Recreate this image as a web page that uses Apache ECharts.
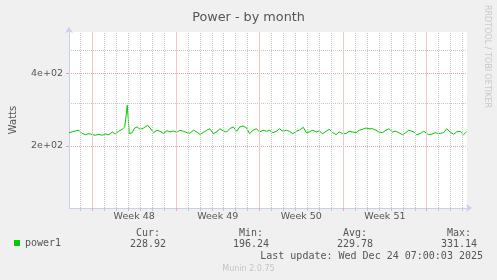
<!DOCTYPE html>
<html><head><meta charset="utf-8">
<script src="https://cdn.jsdelivr.net/npm/echarts@6/dist/echarts.min.js"></script>
<style>html,body{margin:0;padding:0;background:#F0F0F0;}#chart{width:497px;height:280px;}</style>
</head><body><div id="chart"></div>
<script>
const chartTitle = 'Power - by month';
const seriesName = 'power1';
const yAxisName = 'Watts';
// times are hours after 2025-11-21 01:00 UTC; graph spans 800 hours
const startTimeUTC = Date.UTC(2025, 10, 21, 1, 0, 0);
const rangeHours = 800;
const hoursFromStart = [
  0,6,13,20,26,33,40,47,53,60,
  67,73,80,87,93,100,107,112,115,117,
  119,121,127,132,137,143,150,158,163,170,
  177,183,190,197,203,210,217,223,230,237,
  243,250,257,263,270,277,283,290,297,303,
  310,317,323,330,337,343,350,357,363,370,
  377,383,390,397,403,410,417,423,430,437,
  443,450,457,463,471,477,483,490,497,503,
  510,517,523,530,537,543,550,557,563,570,
  577,583,590,597,603,610,617,623,630,637,
  643,650,657,663,670,677,683,693,699,706,
  713,716,723,729,736,743,747,753,759,766,
  773,779,786,793,796,799
];
const watts = [
  227.0,228.6,230.8,232.4,225.7,222.8,224.9,222.8,221.5,223.6,
  221.5,224.2,222.8,228.6,224.2,230.1,234.5,239.7,268.9,294.9,
  262.0,224.9,227.0,237.4,239.7,234.5,237.4,243.7,237.4,227.0,
  232.4,230.1,225.7,231.4,228.6,230.8,227.9,232.4,230.1,227.0,
  225.7,232.4,228.6,223.6,227.5,232.4,235.8,224.9,228.6,235.8,
  230.8,228.6,235.8,239.7,230.1,239.7,242.0,237.4,224.9,232.4,
  235.8,228.6,232.4,230.1,232.4,227.0,230.1,235.8,230.1,232.4,
  230.1,224.9,230.1,232.4,239.0,227.0,228.6,232.4,228.6,230.8,
  224.9,230.1,234.5,227.0,222.8,228.6,224.9,224.9,230.1,228.6,
  227.0,232.4,234.5,237.4,235.8,235.8,232.4,228.6,227.0,232.4,
  235.8,228.6,230.1,227.0,222.8,227.0,232.4,228.6,222.8,224.9,
  230.1,232.4,222.8,223.6,227.0,224.9,221.5,227.0,235.8,228.6,
  223.6,228.6,230.1,222.8,227.0,228.9
];
const yRange = [110.7, 593];
const yMajorValues = [200, 400];
const yMajorLabels = ['2e+02', '4e+02'];
const yMinorValues = [300, 500];
const weekStarts = ['2025-11-23', '2025-11-30', '2025-12-07', '2025-12-14', '2025-12-21'];
const weekLabels = ['Week 48', 'Week 49', 'Week 50', 'Week 51'];
const statNames = ['Cur:', 'Min:', 'Avg:', 'Max:'];
const statValues = ['228.92', '196.24', '229.78', '331.14'];
const lastUpdate = 'Last update: Wed Dec 24 07:00:03 2025';
const footerText = 'Munin 2.0.75';
const sideText = 'RRDTOOL / TOBI OETIKER';

const H = 3600000, D = 86400000;
const tMin = startTimeUTC, tMax = startTimeUTC + rangeHours * H;
const utc = s => { const p = s.split('-').map(Number); return Date.UTC(p[0], p[1] - 1, p[2]); };
const weekTimes = weekStarts.map(utc);
const weekMids = weekLabels.map((_, i) => weekTimes[i] + 3.5 * D);
const dayTimes = [];
for (let t = Date.UTC(2025, 10, 21); t <= tMax; t += D) {
  if (t > tMin && new Date(t).getUTCDay() !== 0) dayTimes.push(t);
}
const data = hoursFromStart.map((h, i) => [startTimeUTC + h * H, watts[i]]);

const axisColor = '#C8D0F0';
const mono = 'DejaVu Sans Mono';
const sans = 'DejaVu Sans';
const txt = '#555';
const statX = [148, 251, 355, 459];
const grayGrid = '#C6C6C6', redGrid = '#F8C6C6', redTick = '#F2A4A4', redH = '#D9A8A8';

const chart = echarts.init(document.getElementById('chart'), null, {renderer: 'canvas'});
const graphics = [];
statNames.forEach((n, i) => {
  graphics.push({type: 'text', x: statX[i], y: 233, style: {text: n, font: '10px ' + mono, fill: txt, textAlign: 'center', textVerticalAlign: 'middle'}});
  graphics.push({type: 'text', x: statX[i], y: 244.5, style: {text: statValues[i], font: '10px ' + mono, fill: txt, textAlign: 'center', textVerticalAlign: 'middle'}});
});
graphics.push({type: 'text', x: 483, y: 256.5, style: {text: lastUpdate, font: '10px ' + mono, fill: txt, textAlign: 'right', textVerticalAlign: 'middle'}});
graphics.push({type: 'text', x: 248.5, y: 269, style: {text: footerText, font: '8px ' + sans, fill: '#C4C4C4', textAlign: 'center', textVerticalAlign: 'middle'}});
graphics.push({type: 'text', x: 487.5, y: 5, rotation: -Math.PI / 2, style: {text: sideText, font: '8px ' + sans, fill: '#C8C8C8', textAlign: 'left', textVerticalAlign: 'middle'}});

function gridSeries(id, times, color, dash, z) {
  return {
    id: id, name: id, type: 'line', xAxisIndex: 0, yAxisIndex: 0, z: z, silent: true, data: data,
    showSymbol: false, symbol: 'none', lineStyle: {opacity: 0, width: 0}, tooltip: {show: false},
    markLine: {silent: true, symbol: 'none', animation: false, label: {show: false},
      lineStyle: {color: color, type: dash, width: 1},
      emphasis: {disabled: true},
      data: times.map(t => ({xAxis: t}))}
  };
}

chart.setOption({
  animation: false,
  backgroundColor: '#F0F0F0',
  title: {text: chartTitle, left: 'center', top: 6, textStyle: {fontFamily: sans, fontSize: 12.8, fontWeight: 'normal', color: '#555'}},
  legend: {data: [seriesName], left: 14, top: 238, padding: 0, icon: 'rect', itemWidth: 6, itemHeight: 6,
    textStyle: {fontFamily: mono, fontSize: 10, color: txt}},
  grid: {left: 67, right: 30, top: 32, bottom: 72, show: true, backgroundColor: '#FFFFFF', borderWidth: 0},
  xAxis: [
    {type: 'value', min: tMin, max: tMax, scale: true,
      axisLine: {show: true, onZero: false, lineStyle: {color: axisColor}, symbol: ['none', 'arrow'], symbolSize: [6, 6], symbolOffset: [0, 5]},
      axisTick: {show: true, customValues: dayTimes, length: 3, lineStyle: {color: grayGrid}},
      axisLabel: {show: false},
      splitLine: {show: false}},
    {type: 'value', min: tMin, max: tMax, scale: true, position: 'bottom',
      axisLine: {show: false, onZero: false},
      axisTick: {show: true, customValues: weekTimes, length: 3, lineStyle: {color: redTick}},
      axisLabel: {show: true, customValues: weekMids, margin: 4, fontFamily: sans, fontSize: 9.5, color: txt,
        formatter: v => { const i = weekMids.findIndex(m => Math.abs(m - v) < H); return i >= 0 ? weekLabels[i] : ''; }},
      splitLine: {show: false}}
  ],
  yAxis: [
    {type: 'log', logBase: 10, min: yRange[0], max: yRange[1], position: 'left',
      name: yAxisName, nameLocation: 'middle', nameGap: 51, nameRotate: 90,
      nameTextStyle: {fontFamily: sans, fontSize: 10, color: txt},
      axisLine: {show: true, lineStyle: {color: axisColor}, symbol: ['none', 'arrow'], symbolSize: [6, 6], symbolOffset: [0, 5]},
      axisTick: {show: false, customValues: yMinorValues},
      axisLabel: {show: false},
      minorTick: {show: false}, minorSplitLine: {show: false},
      splitLine: {show: true, lineStyle: {color: grayGrid, type: [1, 1], width: 1}}},
    {type: 'log', logBase: 10, min: yRange[0], max: yRange[1], position: 'left',
      axisLine: {show: false},
      axisTick: {show: true, customValues: yMajorValues, length: 3, lineStyle: {color: redH}},
      axisLabel: {show: true, customValues: yMajorValues, margin: 6, fontFamily: sans, fontSize: 9.5, color: txt,
        formatter: v => { const i = yMajorValues.findIndex(m => Math.abs(m - v) < 1e-6 * m); return i >= 0 ? yMajorLabels[i] : ''; }},
      splitLine: {show: true, lineStyle: {color: redH, type: [1, 1], width: 1}}}
  ],
  series: [
    gridSeries('dayGrid', dayTimes, grayGrid, [1, 1], 1),
    gridSeries('weekGrid', weekTimes, redGrid, 'solid', 2),
    {
      id: 'power1', name: seriesName, type: 'line', xAxisIndex: 0, yAxisIndex: 0, z: 3, data: data,
      showSymbol: false, symbol: 'none', smooth: false,
      lineStyle: {color: '#00CC00', width: 1}, itemStyle: {color: '#00CC00'}
    }
  ],
  graphic: graphics
});
</script></body></html>
